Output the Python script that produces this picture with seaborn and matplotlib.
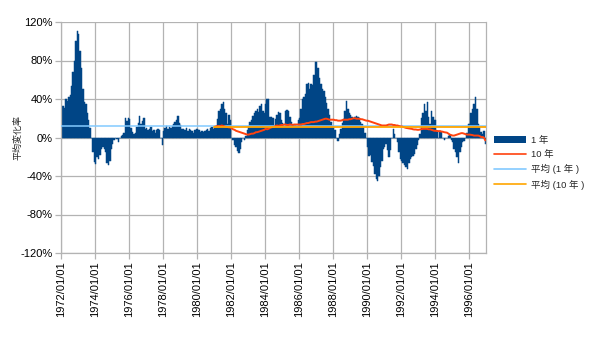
import numpy as np
import pandas as pd
import matplotlib
matplotlib.use("Agg")
import matplotlib.pyplot as plt
import seaborn as sns
from matplotlib.lines import Line2D
from matplotlib.patches import Patch

# ---------------- data (monthly, 1972/01 .. 1996/12) ----------------
change_1yr = [
    30, 33, 31, 40, 38, 42, 44, 54, 68, 80, 100, 111,        # 1972
    108, 90, 72, 50, 37, 35, 25, 18, 10, 0, -15, -25,        # 1973
    -28, -20, -22, -18, -12, -10, -12, -15, -26, -29, -24, -12,  # 1974
    -7, -3, 0, -2, -5, 0, 2, 3, 5, 20, 17, 20,               # 1975
    19, 10, 6, 4, 5, 11, 15, 22, 14, 17, 20, 9,              # 1976
    10, 8, 9, 11, 7, 8, 5, 8, 9, 8, 0, -8,                   # 1977
    7, 10, 12, 9, 11, 10, 12, 14, 16, 18, 22, 15,            # 1978
    13, 9, 9, 8, 10, 7, 9, 8, 7, 5, 8, 9,                    # 1979
    9, 8, 6, 7, 6, 7, 8, 9, 7, 10, 11, 9,                    # 1980
    12, 12, 19, 28, 30, 35, 37, 30, 25, 14, 23, 18,          # 1981
    0, -3, -8, -10, -14, -16, -12, -5, 0, -3, 2, 8,          # 1982
    12, 16, 18, 22, 25, 28, 30, 26, 33, 35, 28, 25,          # 1983
    35, 40, 40, 21, 21, 20, 12, 19, 23, 26, 25, 18,          # 1984
    15, 12, 28, 29, 28, 21, 16, 12, 13, 13, 12, 18,          # 1985
    20, 30, 40, 42, 45, 56, 57, 50, 56, 55, 65, 78,          # 1986
    78, 72, 62, 56, 50, 48, 42, 36, 30, 23, 16, 12,          # 1987
    12, 8, 0, -4, 4, 9, 15, 19, 28, 38, 30, 25,              # 1988
    23, 21, 19, 21, 22, 21, 20, 16, 14, 11, 5, 0,            # 1989
    -10, -19, -18, -25, -30, -38, -43, -45, -40, -31, -24, -12,  # 1990
    -10, -7, -13, -20, -13, -1, 9, 4, 0, -5, -15, -22,       # 1991
    -24, -27, -29, -31, -33, -26, -22, -20, -19, -17, -12, -8,   # 1992
    -3, 4, 20, 25, 35, 28, 37, 21, 14, 28, 21, 18,           # 1993
    18, 7, -1, 7, 6, -1, -3, -1, 0, 2, 3, -3,                # 1994
    -5, -12, -15, -20, -26, -15, -10, -5, -4, -1, 5, 14,     # 1995
    14, 25, 30, 35, 42, 30, 14, 11, 6, 4, 7, -7,             # 1996
]

# 10-year change, monthly from 1981/01 .. 1996/12
change_10yr = [
    11, 11.5, 12, 11.5, 12, 12.5, 12, 11.5, 11, 11, 10.5, 10.5,      # 1981
    9.5, 8.5, 8, 7, 6.5, 6, 5.5, 5, 4.5, 4, 3.5, 3,                  # 1982
    3, 3.5, 4, 4, 4.5, 5.5, 5.5, 6, 6.5, 7, 7.5, 8,                  # 1983
    9, 8.5, 9, 10, 10.5, 11, 11, 12, 12.5, 12, 12.5, 13,             # 1984
    13, 13.5, 13.5, 13, 13, 13.5, 13.5, 13, 13.5, 13.5, 13.5, 13.5,  # 1985
    13.5, 13.5, 14, 14, 14.5, 15, 15, 15.5, 16, 16, 16, 16.5,        # 1986
    16.5, 17, 17.5, 18, 18.5, 19, 19.5, 19.5, 19, 18.5, 18.5, 18.5,  # 1987
    18.5, 18, 18, 17.5, 17.5, 17.5, 18, 18.5, 18.5, 18.5, 18.5, 19,  # 1988
    19, 19.5, 20, 20, 19.5, 19.5, 19.5, 19, 19, 18.5, 18, 17.5,      # 1989
    17.5, 17, 16.5, 16, 15.5, 15, 14.5, 14, 13.5, 13, 12.5, 12.5,    # 1990
    12.5, 12.5, 13, 13.5, 13.5, 13.5, 13, 13, 12.5, 12.5, 12, 11.5,  # 1991
    11.5, 11, 10.5, 10, 9.7, 9.5, 9.2, 9, 8.5, 8.3, 8.3, 8,          # 1992
    8, 8.3, 8.5, 9, 9, 9, 9, 8.5, 8.5, 8, 7.5, 7,                    # 1993
    7, 6.8, 6.6, 6.6, 6.2, 6, 5.5, 5.2, 5, 4, 3, 2.5,                # 1994
    2, 2, 2.5, 3, 3.5, 4, 4.5, 4.5, 4, 3.5, 3, 3,                    # 1995
    3, 2.8, 2.5, 2, 2, 2, 2, 1.5, 0.5, 0.5, 0, -3,                   # 1996
]
start_10yr_month = 108   # 1981/01 as months after 1972/01

avg_1yr = 11.5
avg_10yr = 11.0

x_tick_labels = ["1972/01/01", "1974/01/01", "1976/01/01", "1978/01/01",
                 "1980/01/01", "1982/01/01", "1984/01/01", "1986/01/01",
                 "1988/01/01", "1990/01/01", "1992/01/01", "1994/01/01",
                 "1996/01/01"]
y_ticks = [-120, -80, -40, 0, 40, 80, 120]
legend_labels = ["1 年", "10 年", "平均 (1 年 )", "平均 (10 年 )"]
y_title = "平均変化率"

# ---------------- style ----------------
sns.set_theme(style="white")
plt.rcParams["font.family"] = ["Liberation Sans", "Noto Sans CJK JP"]

c_bar = "#004586"
c_10 = "#ff420e"
c_avg1 = "#83caff"
c_avg10 = "#ffa500"
c_grid = "#b3b3b3"

fig = plt.figure(figsize=(6.0, 3.37), dpi=100)
ax = fig.add_axes([61 / 600, 1 - 253 / 337, 425 / 600, 231 / 337])

n = len(change_1yr)
df1 = pd.DataFrame({"m": np.arange(n) + 0.5, "v": change_1yr})
df10 = pd.DataFrame({"m": np.arange(len(change_10yr)) + start_10yr_month + 0.5,
                     "v": change_10yr})

ax.set_axisbelow(True)
ax.grid(True, color=c_grid, lw=0.9)

sns.barplot(data=df1, x="m", y="v", native_scale=True, width=1.0,
            color=c_bar, saturation=1, linewidth=0.35, edgecolor=c_bar,
            errorbar=None, ax=ax, zorder=2)

sns.lineplot(x=[0, n], y=[avg_1yr, avg_1yr], color=c_avg1, lw=1.1, ax=ax, zorder=3)
sns.lineplot(data=df10, x="m", y="v", color=c_10, lw=1.4, ax=ax, zorder=4)
sns.lineplot(x=[start_10yr_month, n], y=[avg_10yr, avg_10yr], color=c_avg10,
             lw=1.3, ax=ax, zorder=5)

ax.set_xlim(0, n)
ax.set_ylim(-120, 120)
ax.set_xticks(np.arange(len(x_tick_labels)) * 24)
ax.set_xticklabels(x_tick_labels, rotation=90, fontsize=8)
ax.set_yticks(y_ticks)
ax.set_yticklabels([f"{v}%" for v in y_ticks], fontsize=8)
ax.set_xlabel("")
ax.set_ylabel(y_title, fontsize=6.5)
ax.yaxis.set_label_coords(-0.09, 0.5)

ax.tick_params(axis="both", which="major", direction="out", length=4,
               width=0.9, color=c_grid, pad=2, labelcolor="#000000",
               bottom=True, left=True)
for s in ["left", "bottom", "right"]:
    ax.spines[s].set_color(c_grid)
    ax.spines[s].set_linewidth(0.9)
ax.spines["top"].set_visible(False)

handles = [Patch(facecolor=c_bar, edgecolor="none"),
           Line2D([], [], color=c_10, lw=1.2),
           Line2D([], [], color=c_avg1, lw=1.2),
           Line2D([], [], color=c_avg10, lw=1.2)]
fig.legend(handles, legend_labels, loc="upper left",
           bbox_to_anchor=(494 / 600, 1 - 136 / 337), frameon=False,
           fontsize=6.8, handlelength=3.4, handletextpad=0.5,
           labelspacing=0.55, borderpad=0, borderaxespad=0)

fig.savefig("out.png", dpi=100)
